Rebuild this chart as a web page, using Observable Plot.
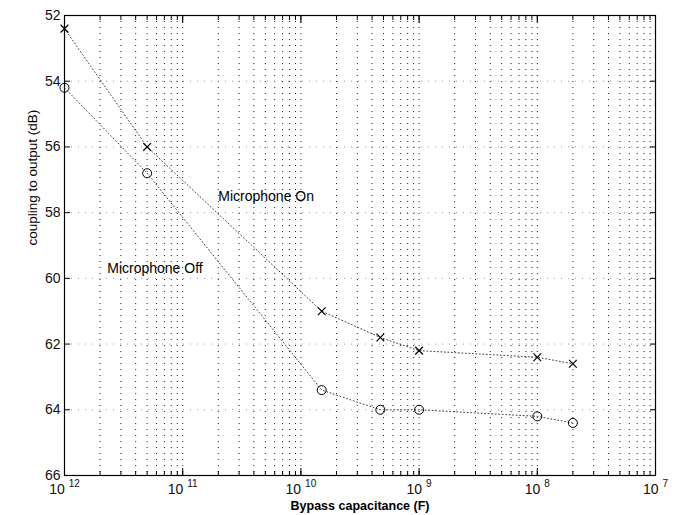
<!DOCTYPE html>
<html>
<head>
<meta charset="utf-8">
<script src="https://cdn.jsdelivr.net/npm/d3@7"></script>
<script src="https://cdn.jsdelivr.net/npm/@observablehq/plot@0.6"></script>
<style>
  body { margin: 0; background: #fff; }
  #chart svg { font-family: "Liberation Sans", Arial, Helvetica, sans-serif; }
</style>
</head>
<body>
<div id="chart"></div>
<script>
// Bypass capacitor value (F) for each measurement
const capacitance = [1e-12, 5e-12, 1.5e-10, 4.7e-10, 1e-9, 1e-8, 2e-8];
// Coupling to output (dB)
const micOn  = [52.4, 56.0, 61.0, 61.8, 62.2, 62.4, 62.6];
const micOff = [54.2, 56.8, 63.4, 64.0, 64.0, 64.2, 64.4];

const xDecades = [1e-12, 1e-11, 1e-10, 1e-9, 1e-8, 1e-7];
const yTicks = [52, 54, 56, 58, 60, 62, 64, 66];
const seriesNames = ["Microphone On", "Microphone Off"];
const labelX = [2.0e-11, 2.3e-12];
const labelY = [57.5, 59.7];

const xDomain = [1e-12, 1e-7];
// every 1..9 × 10^k line of the log grid
const xMinor = d3.scaleLog().domain(xDomain).ticks();

const on = capacitance.map((c, i) => ({c, v: micOn[i]}));
const off = capacitance.map((c, i) => ({c, v: micOff[i]}));
const labels = seriesNames.map((name, i) => ({name, x: labelX[i], y: labelY[i]}));

const chart = Plot.plot({
  width: 674,
  height: 515,
  marginLeft: 64,
  marginRight: 19,
  marginTop: 15,
  marginBottom: 40,
  style: {fontFamily: "Liberation Sans, Arial, sans-serif", color: "#111", background: "#fff"},
  x: {type: "log", domain: xDomain},
  y: {domain: [52, 66], reverse: true},
  marks: [
    // dotted grid
    Plot.ruleX(xMinor, {stroke: "#222", strokeWidth: 1, strokeDasharray: "1,5"}),
    Plot.ruleY(yTicks, {stroke: "#999", strokeWidth: 1, strokeDasharray: "1,6"}),
    // inward tick marks on all four sides
    Plot.axisX(xMinor, {anchor: "bottom", tickSize: -4, tickFormat: () => "", label: null, stroke: "#000"}),
    Plot.axisX(xMinor, {anchor: "top", tickSize: -4, tickFormat: () => "", label: null, stroke: "#000"}),
    Plot.axisX(xDecades, {anchor: "bottom", tickSize: -7, tickFormat: () => "", label: null, stroke: "#000"}),
    Plot.axisX(xDecades, {anchor: "top", tickSize: -7, tickFormat: () => "", label: null, stroke: "#000"}),
    Plot.axisY(yTicks, {anchor: "left", tickSize: -6, tickFormat: () => "", label: null, stroke: "#000"}),
    Plot.axisY(yTicks, {anchor: "right", tickSize: -6, tickFormat: () => "", label: null, stroke: "#000"}),
    // tick labels
    Plot.axisX(xDecades, {
      anchor: "bottom", tickSize: 0, tickPadding: 9, fontSize: 14, label: null,
      tickFormat: d => "10^" + Math.abs(Math.round(Math.log10(d)))
    }),
    Plot.axisY(yTicks, {anchor: "left", tickSize: 0, tickPadding: 4, fontSize: 14, label: null}),
    Plot.frame({stroke: "#000", strokeWidth: 1.2}),
    // series
    Plot.line(on, {x: "c", y: "v", stroke: "#444", strokeWidth: 1, strokeDasharray: "1,2.5"}),
    Plot.line(off, {x: "c", y: "v", stroke: "#444", strokeWidth: 1, strokeDasharray: "1,2.5"}),
    Plot.dot(on, {x: "c", y: "v", symbol: "times", r: 3.6, stroke: "#000", strokeWidth: 1.2}),
    Plot.dot(off, {x: "c", y: "v", symbol: "circle", r: 4.5, stroke: "#000", strokeWidth: 1, fill: "none"}),
    // series labels
    Plot.text(labels, {x: "x", y: "y", text: "name", textAnchor: "start", fontSize: 14, fill: "#000"}),
    // axis titles
    Plot.text(["Bypass capacitance (F)"], {frameAnchor: "bottom", dy: 34, fontSize: 12.5, fill: "#000", fontWeight: "bold"}),
    Plot.text(["coupling to output (dB)"], {frameAnchor: "left", dx: -32, rotate: -90, fontSize: 13.5, fill: "#000"})
  ]
});

// render decade labels as 10 with a raised exponent
chart.querySelectorAll('g[aria-label="x-axis tick label"] text').forEach(t => {
  const s = t.textContent;
  if (!s.includes("^")) return;
  const [base, exp] = s.split("^");
  t.textContent = base;
  const sup = document.createElementNS("http://www.w3.org/2000/svg", "tspan");
  sup.setAttribute("dx", "4");
  sup.setAttribute("dy", "-7");
  sup.setAttribute("font-size", "10");
  sup.textContent = exp;
  t.appendChild(sup);
});

document.getElementById("chart").appendChild(chart);
</script>
</body>
</html>
